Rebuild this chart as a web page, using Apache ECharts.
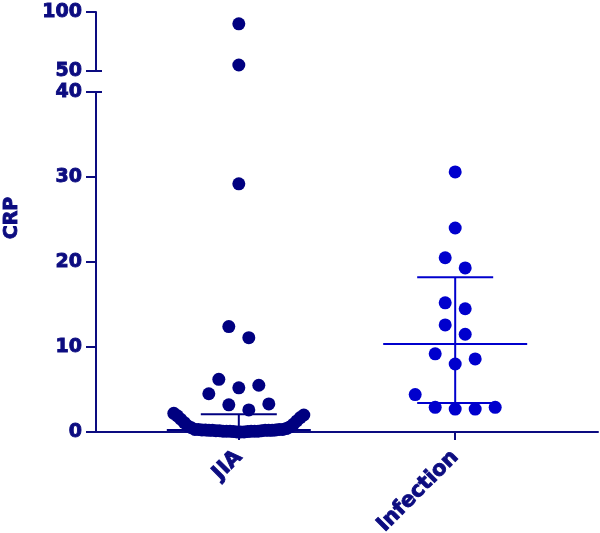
<!DOCTYPE html>
<html><head><meta charset="utf-8">
<script src="https://cdn.jsdelivr.net/npm/echarts@6/dist/echarts.min.js"></script>
<style>html,body{margin:0;padding:0;background:#fff}#c{width:600px;height:533px}</style>
</head><body><div id="c"></div>
<script>
// ---------- data ----------
const categories = ['JIA', 'Infection'];
const jiaValues = [0, 0, 0, 0.05, 0.05, 0.1, 0.1, 0.1, 0.1, 0.1, 0.1,
  0.15, 0.15, 0.15, 0.2, 0.2, 0.2, 0.2, 0.2, 0.25, 0.25, 0.25, 0.3, 0.3, 0.3, 0.3,
  0.4, 0.5, 0.6, 0.7, 0.9, 1.1, 1.3, 1.5, 1.7, 1.9, 2.0, 2.2,
  2.6, 3.2, 3.3, 4.5, 5.2, 5.5, 6.2, 11.1, 12.4, 29.2, 55.1, 90.0];
const infectionValues = [2.7, 2.7, 2.9, 2.9, 4.4, 8.0, 8.6, 9.2, 11.5, 12.6, 14.5, 15.2,
  19.3, 20.5, 24.0, 30.6];
const medians = [0.24, 10.35];
const q1Values = [0, 3.4];
const q3Values = [2.1, 18.2];
const lowerTicks = [0, 10, 20, 30, 40];
const upperTicks = [50, 100];

// ---------- layout / style ----------
const NAVY = '#0c0c80';
const colors = ['#000080', '#0000cd'];
const AX_LEFT = 96, AX_W = 502;
const UP_TOP = 12, UP_H = 59, LOW_TOP = 92, LOW_H = 340;
const XMIN = 0.34, XMAX = 2.66;
const LOW_MAX = lowerTicks[lowerTicks.length - 1], UP_MIN = upperTicks[0], UP_MAX = upperTicks[upperTicks.length - 1];
const ROW_H = 20, BASE_STEP = 20, MAX_SPAN = 130;
const SYM = 13;

function pxY(v) {
  return v <= LOW_MAX ? v * LOW_H / LOW_MAX
    : LOW_H + (LOW_TOP - UP_TOP - UP_H) + (v - UP_MIN) * UP_H / (UP_MAX - UP_MIN);
}
// GraphPad-like scatter dot layout: rows of nearby values spread horizontally
function swarm(values, center) {
  const pxPerX = AX_W / (XMAX - XMIN);
  const sorted = values.slice().sort((a, b) => a - b);
  const rows = [];
  let cur = null;
  sorted.forEach(v => {
    if (!cur || pxY(v) - pxY(cur[0]) >= ROW_H) { cur = [v]; rows.push(cur); }
    else cur.push(v);
  });
  const pts = [];
  rows.forEach(row => {
    const n = row.length;
    const step = n > 1 ? Math.min(BASE_STEP, MAX_SPAN / (n - 1)) : 0;
    row.forEach((v, i) => {
      let slot;
      if (n % 2 === 1) slot = i === 0 ? 0 : (i % 2 === 1 ? Math.ceil(i / 2) : -Math.ceil(i / 2));
      else { const k = Math.floor(i / 2) + 0.5; slot = i % 2 === 0 ? k : -k; }
      pts.push([center + slot * step / pxPerX, v]);
    });
  });
  return pts;
}

const groups = [jiaValues, infectionValues];
const scatterSeries = [];
groups.forEach((vals, gi) => {
  const pts = swarm(vals, gi + 1);
  scatterSeries.push({
    type: 'scatter', xAxisIndex: 1, yAxisIndex: 1, symbol: 'circle', symbolSize: SYM,
    itemStyle: { color: colors[gi], opacity: 1 }, z: 5, silent: true,
    data: pts.filter(p => p[1] <= LOW_MAX)
  });
  scatterSeries.push({
    type: 'scatter', xAxisIndex: 0, yAxisIndex: 0, symbol: 'circle', symbolSize: SYM,
    itemStyle: { color: colors[gi], opacity: 1 }, z: 5, silent: true,
    data: pts.filter(p => p[1] >= UP_MIN)
  });
});

const MED_W = 144, WHISK_W = 76;
const errorSeries = {
  type: 'custom', xAxisIndex: 1, yAxisIndex: 1, z: 3, silent: true,
  data: categories.map((c, i) => [i + 1, medians[i], q1Values[i], q3Values[i]]),
  renderItem(params, api) {
    const x = api.value(0);
    const pm = api.coord([x, api.value(1)]);
    const pl = api.coord([x, api.value(2)]);
    const ph = api.coord([x, api.value(3)]);
    const style = { stroke: colors[params.dataIndex], lineWidth: 2 };
    const ln = (x1, y1, x2, y2) => ({ type: 'line', shape: { x1, y1, x2, y2 }, style });
    return { type: 'group', children: [
      ln(pm[0] - MED_W / 2, pm[1], pm[0] + MED_W / 2, pm[1]),
      ln(pl[0] - WHISK_W / 2, pl[1], pl[0] + WHISK_W / 2, pl[1]),
      ln(ph[0] - WHISK_W / 2, ph[1], ph[0] + WHISK_W / 2, ph[1]),
      ln(pl[0], pl[1], ph[0], ph[1])
    ]};
  }
};

const labelStyle = { color: NAVY, fontWeight: 'bold', fontFamily: 'DejaVu Sans', fontSize: 19,
  textBorderColor: NAVY, textBorderWidth: 0.9 };
const lineStyle = { color: NAVY, width: 2 };

const option = {
  animation: false,
  grid: [
    { left: AX_LEFT, top: UP_TOP, width: AX_W, height: UP_H, outerBoundsMode: 'none', containLabel: false },
    { left: AX_LEFT, top: LOW_TOP, width: AX_W, height: LOW_H, outerBoundsMode: 'none', containLabel: false }
  ],
  xAxis: [
    { gridIndex: 0, type: 'value', min: XMIN, max: XMAX, show: false },
    { gridIndex: 1, type: 'value', min: XMIN, max: XMAX,
      axisLine: { show: true, lineStyle },
      axisTick: { show: true, length: 8, lineStyle, customValues: [1, 2] },
      axisLabel: { ...labelStyle, fontSize: 21, rotate: 45, margin: 22, customValues: [1, 2],
        formatter: v => categories[Math.round(v) - 1] },
      splitLine: { show: false } }
  ],
  yAxis: [
    { gridIndex: 0, type: 'value', position: 'left', min: UP_MIN, max: UP_MAX, interval: UP_MAX - UP_MIN,
      axisLine: { show: true, lineStyle }, axisTick: { show: true, length: 10, lineStyle },
      axisLabel: { ...labelStyle, margin: 14 }, splitLine: { show: false } },
    { gridIndex: 1, type: 'value', position: 'left', min: 0, max: LOW_MAX, interval: 10,
      axisLine: { show: true, lineStyle }, axisTick: { show: true, length: 10, lineStyle },
      axisLabel: { ...labelStyle, margin: 14 }, splitLine: { show: false } },
    { gridIndex: 0, type: 'value', position: 'left', offset: 0, min: UP_MIN, max: UP_MAX, axisLine: { show: false },
      axisLabel: { show: false }, splitLine: { show: false },
      axisTick: { show: true, inside: true, length: 6, lineStyle, customValues: [UP_MIN] } },
    { gridIndex: 1, type: 'value', position: 'left', offset: 0, min: 0, max: LOW_MAX, axisLine: { show: false },
      axisLabel: { show: false }, splitLine: { show: false },
      axisTick: { show: true, inside: true, length: 6, lineStyle, customValues: [LOW_MAX] } }
  ],
  graphic: [{
    type: 'text', rotation: Math.PI / 2,
    x: 12, y: 218,
    style: { text: 'CRP', fill: NAVY, stroke: NAVY, lineWidth: 0.9, font: 'bold 19px "DejaVu Sans"',
      align: 'center', verticalAlign: 'middle' }
  }],
  series: [errorSeries, ...scatterSeries]
};
const chart = echarts.init(document.getElementById('c'), null, { renderer: 'canvas' });
chart.setOption(option);
</script>
</body></html>
